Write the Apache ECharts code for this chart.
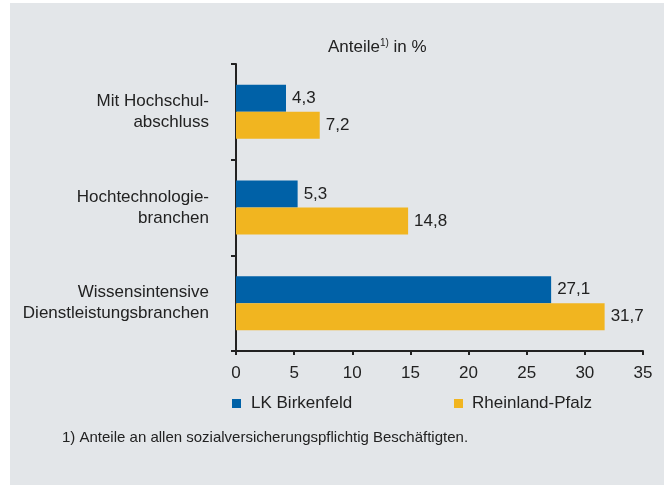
<!DOCTYPE html>
<html>
<head>
<meta charset="utf-8">
<script src="https://cdn.jsdelivr.net/npm/echarts@6/dist/echarts.min.js"></script>
<style>
  html, body { margin: 0; padding: 0; background: #fff; }
  #chart { width: 664px; height: 486px; }
</style>
</head>
<body>
<div id="chart"></div>
<script>
var categories = [
  "Mit Hochschul-\nabschluss",
  "Hochtechnologie-\nbranchen",
  "Wissensintensive\nDienstleistungsbranchen"
];
var birkenfeld = [4.3, 5.3, 27.1];
var rheinlandPfalz = [7.2, 14.8, 31.7];
var xTicks = [0, 5, 10, 15, 20, 25, 30, 35];

var textColor = "#222";
var font = "'Liberation Sans', Arial, sans-serif";

var chart = echarts.init(document.getElementById("chart"));

function komma(p) {
  return p.value.toFixed(1).replace(".", ",");
}

var option = {
  backgroundColor: "#fff",
  textStyle: { fontFamily: font, color: textColor },
  graphic: [
    {
      type: "rect",
      z: -10,
      shape: { x: 10, y: 3, width: 654, height: 482 },
      style: { fill: "#e3e6e9" }
    },
    {
      type: "text",
      left: 62,
      top: 430,
      style: {
        text: "1) Anteile an allen sozialversicherungspflichtig Beschäftigten.",
        font: "15px " + font,
        fill: textColor
      }
    }
  ],
  title: {
    text: "Anteile{sup|1)} in %",
    left: 323,
    top: 33,
    textStyle: {
      fontFamily: font,
      fontSize: 17,
      fontWeight: "normal",
      color: textColor,
      rich: {
        sup: { fontSize: 10, verticalAlign: "top", padding: [0, 0, 8, 0], color: textColor, fontFamily: font }
      }
    }
  },
  legend: [
    {
      data: ["LK Birkenfeld"],
      left: 227,
      top: 390,
      icon: "rect",
      itemWidth: 9,
      itemHeight: 9,
      itemGap: 10,
      textStyle: { fontFamily: font, fontSize: 17, color: textColor, padding: [0, 0, 0, 5] }
    },
    {
      data: ["Rheinland-Pfalz"],
      left: 449,
      top: 390,
      icon: "rect",
      itemWidth: 9,
      itemHeight: 9,
      itemGap: 10,
      textStyle: { fontFamily: font, fontSize: 17, color: textColor, padding: [0, 0, 0, 4] }
    }
  ],
  grid: {
    left: 236,
    right: 21,
    top: 64,
    bottom: 135,
    containLabel: false
  },
  xAxis: {
    type: "value",
    min: xTicks[0],
    max: xTicks[xTicks.length - 1],
    interval: 5,
    splitLine: { show: false },
    axisLine: { show: true, lineStyle: { color: textColor, width: 2 } },
    axisTick: { show: true, length: 4, lineStyle: { color: textColor, width: 2 } },
    axisLabel: { fontFamily: font, fontSize: 17, color: textColor, margin: 14 }
  },
  yAxis: {
    type: "category",
    inverse: true,
    data: categories,
    axisLine: { show: true, lineStyle: { color: textColor, width: 2 } },
    axisTick: { show: true, length: 5, lineStyle: { color: textColor, width: 2 } },
    axisLabel: {
      fontFamily: font,
      fontSize: 17,
      lineHeight: 21,
      color: textColor,
      margin: 27,
      align: "right"
    }
  },
  series: [
    {
      name: "LK Birkenfeld",
      type: "bar",
      data: birkenfeld,
      barWidth: 27,
      barGap: "0%",
      itemStyle: { color: "#0061a7" },
      label: {
        show: true,
        position: "right",
        distance: 6,
        fontFamily: font,
        fontSize: 17,
        color: textColor,
        formatter: komma
      }
    },
    {
      name: "Rheinland-Pfalz",
      type: "bar",
      data: rheinlandPfalz,
      barWidth: 27,
      barGap: "0%",
      itemStyle: { color: "#f1b520" },
      label: {
        show: true,
        position: "right",
        distance: 6,
        fontFamily: font,
        fontSize: 17,
        color: textColor,
        formatter: komma
      }
    }
  ]
};

chart.setOption(option);
window.addEventListener("resize", function () {
  chart.resize();
});
</script>
</body>
</html>
